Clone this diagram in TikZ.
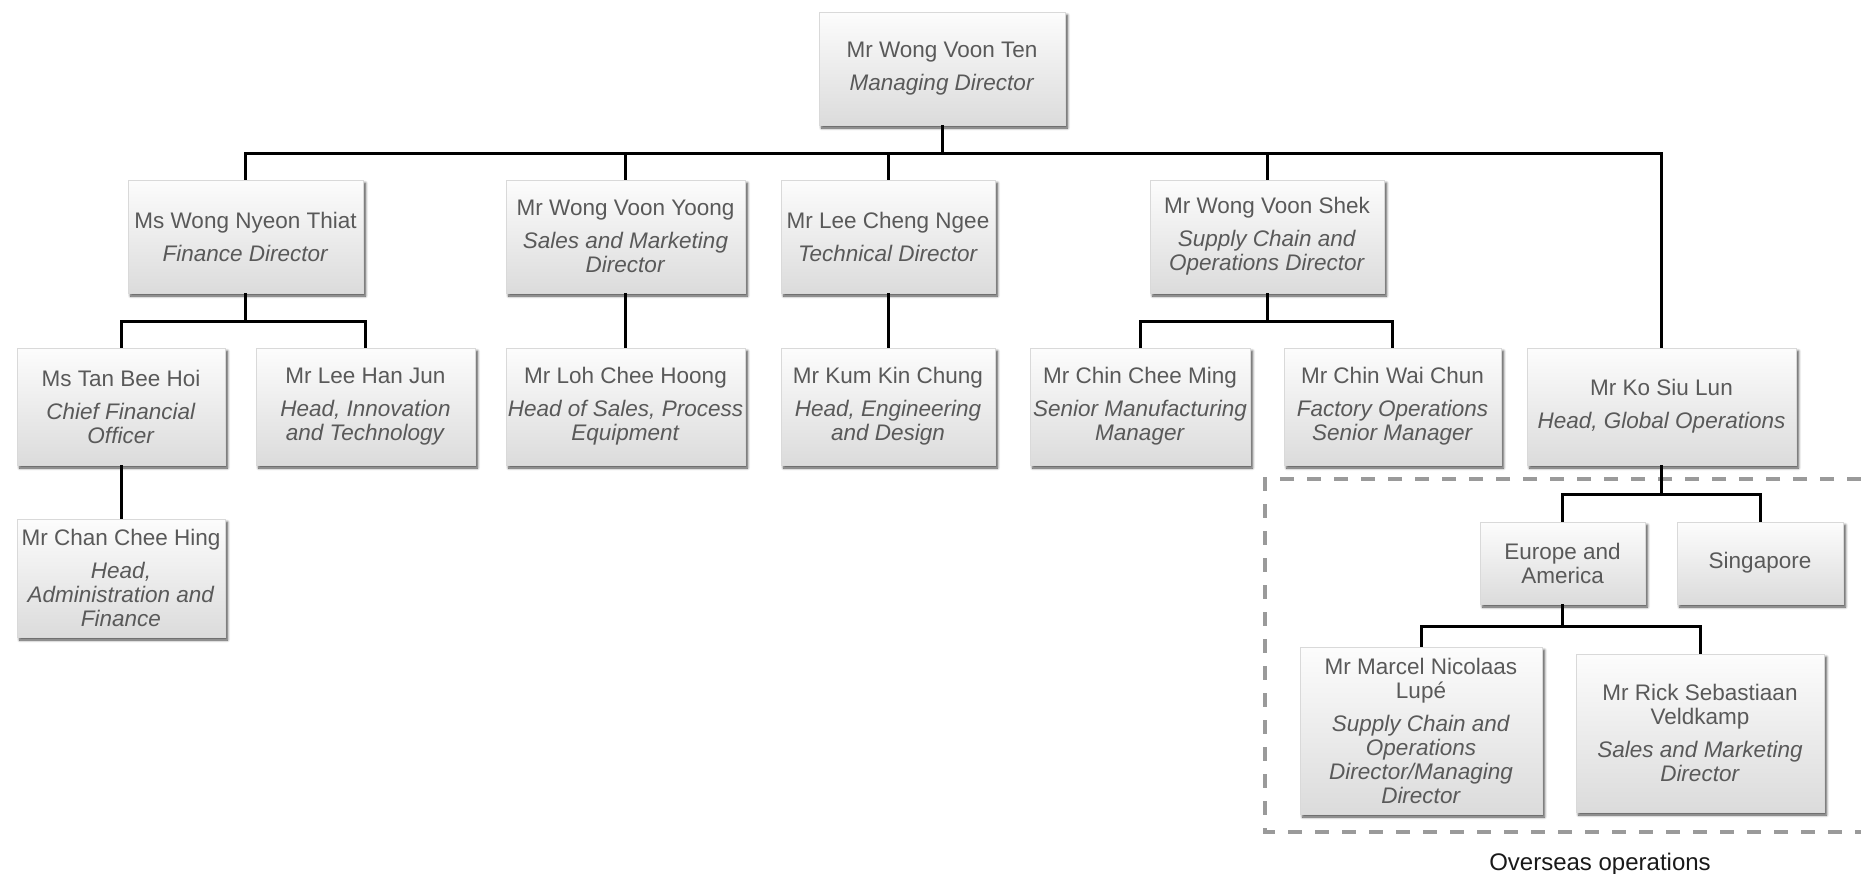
\documentclass[tikz,border=0pt]{standalone}
\usepackage{fontspec}
\setmainfont{Liberation Sans}
\usetikzlibrary{shadows.blur}
\definecolor{boxtext}{HTML}{595959}
\definecolor{dashgray}{HTML}{9A9A9A}

\begin{document}
\begin{tikzpicture}[x=1pt, y=-1pt,
        box/.style={draw=gray!30, line width=0.4pt, top color=gray!2, bottom color=gray!28,
            blur shadow={shadow xshift=2.5pt, shadow yshift=-3pt, shadow blur radius=2.5pt,
                shadow blur steps=6, shadow opacity=70},
            text=boxtext, align=center, inner sep=1pt,
            font=\fontsize{22.5}{24}\selectfont},
        conn/.style={line width=3pt},
        overseas/.style={draw=dashgray, line width=4pt, dash pattern=on 14pt off 13pt}]
        \useasboundingbox (0,0) rectangle (1861,873);

        % Overseas frame
        \draw[overseas] (1861,479) -| (1265,832) -- (1861,832);
        \node[anchor=base, font=\fontsize{24}{26}\selectfont, text=black!90] (ovs) at (1600,870) {Overseas operations};

        % Managing director
        \node[box, minimum width=246pt, minimum height=113pt] (md) at (942,68.5) {Mr Wong Voon Ten\\[9pt]\textit{Managing Director}};

        % Directors
        \node[box, minimum width=235pt, minimum height=113pt] (fin) at (245.5,236.5) {Ms Wong Nyeon Thiat\\[9pt]\textit{Finance Director}};
        \node[box, minimum width=239pt, minimum height=113pt] (sal) at (625.5,236.5) {Mr Wong Voon Yoong\\[9pt]\textit{Sales and Marketing}\\\textit{Director}};
        \node[box, minimum width=214pt, minimum height=113pt] (tec) at (888,236.5) {Mr Lee Cheng Ngee\\[9pt]\textit{Technical Director}};
        \node[box, minimum width=234pt, minimum height=113pt] (sup) at (1267,236.5) {Mr Wong Voon Shek\\[9pt]\textit{Supply Chain and}\\\textit{Operations Director}};

        % Heads and managers
        \node[box, minimum width=208pt, minimum height=117pt] (tan) at (121,406.5) {Ms Tan Bee Hoi\\[9pt]\textit{Chief Financial}\\\textit{Officer}};
        \node[box, minimum width=219pt, minimum height=117pt] (lee) at (365.5,406.5) {Mr Lee Han Jun\\[9pt]\textit{Head, Innovation}\\\textit{and Technology}};
        \node[box, minimum width=239pt, minimum height=117pt] (loh) at (625.5,406.5) {Mr Loh Chee Hoong\\[9pt]\textit{Head of Sales, Process}\\\textit{Equipment}};
        \node[box, minimum width=214pt, minimum height=117pt] (kum) at (888,406.5) {Mr Kum Kin Chung\\[9pt]\textit{Head, Engineering}\\\textit{and Design}};
        \node[box, minimum width=220pt, minimum height=117pt] (ccm) at (1140,406.5) {Mr Chin Chee Ming\\[9pt]\textit{Senior Manufacturing}\\\textit{Manager}};
        \node[box, minimum width=217pt, minimum height=117pt] (cwc) at (1392.5,406.5) {Mr Chin Wai Chun\\[9pt]\textit{Factory Operations}\\\textit{Senior Manager}};
        \node[box, minimum width=269pt, minimum height=117pt] (ko) at (1661.5,406.5) {Mr Ko Siu Lun\\[9pt]\textit{Head, Global Operations}};

        \node[box, minimum width=208pt, minimum height=118pt] (chan) at (121,578) {Mr Chan Chee Hing\\[9pt]\textit{Head,}\\\textit{Administration and}\\\textit{Finance}};

        % Overseas regions
        \node[box, minimum width=165pt, minimum height=82pt] (eur) at (1562.5,563) {Europe and\\America};
        \node[box, minimum width=166pt, minimum height=82pt] (sgp) at (1760,563) {Singapore};
        \node[box, minimum width=242pt, minimum height=167pt] (mar) at (1421,730.5) {Mr Marcel Nicolaas\\Lupé\\[9pt]\textit{Supply Chain and}\\\textit{Operations}\\\textit{Director/Managing}\\\textit{Director}};
        \node[box, minimum width=248pt, minimum height=158pt] (rik) at (1700,733) {Mr Rick Sebastiaan\\Veldkamp\\[9pt]\textit{Sales and Marketing}\\\textit{Director}};

        % Reporting lines
        \coordinate (bus1) at (0,153);
        \coordinate (bus2) at (0,321);
        \coordinate (bus3) at (0,494);
        \coordinate (bus4) at (0,626);
        \foreach \c in {fin,sal,tec,sup,ko}
            \draw[conn] (md.south) -- (md.south |- bus1) -| (\c.north);
        \foreach \c in {tan,lee}
            \draw[conn] (fin.south) -- (fin.south |- bus2) -| (\c.north);
        \foreach \c in {ccm,cwc}
            \draw[conn] (sup.south) -- (sup.south |- bus2) -| (\c.north);
        \draw[conn] (sal) -- (loh);
        \draw[conn] (tec) -- (kum);
        \draw[conn] (tan) -- (chan);
        \foreach \c in {eur,sgp}
            \draw[conn] (ko.south) -- (ko.south |- bus3) -| (\c.north);
        \foreach \c in {mar,rik}
            \draw[conn] (eur.south) -- (eur.south |- bus4) -| (\c.north);
    \end{tikzpicture}
\end{document}
